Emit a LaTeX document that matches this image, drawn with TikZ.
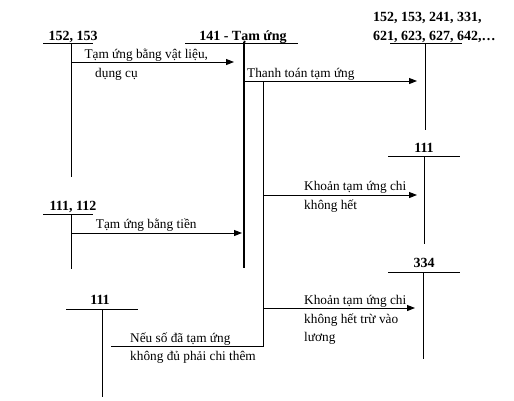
\documentclass[tikz,border=0pt]{standalone}
\usepackage{fontspec}
\setmainfont{Liberation Serif}
\usetikzlibrary{arrows.meta}
\begin{document}
\begin{tikzpicture}[x=1pt,y=-1pt,
  txt/.style={anchor=base west,inner sep=0pt,font=\fontsize{13.3}{19}\selectfont},
  hdr/.style={anchor=base,inner sep=0pt,font=\fontsize{14}{19}\selectfont\bfseries},
  hdrl/.style={anchor=base west,inner sep=0pt,font=\fontsize{14}{19}\selectfont\bfseries},
  ln/.style={line width=1pt},
  heavy/.style={line width=2.2pt},
  arr/.style={line width=1pt,-{Triangle[length=8pt,width=6pt]}}
]
\useasboundingbox (0,0) rectangle (514,400);
% headers
\node[hdr] (a152) at (73,40) {152, 153};
\node[hdr] (a141) at (243,40) {141 - Tạm ứng};
\node[hdrl] (aexp1) at (373,21.5) {152, 153, 241, 331,};
\node[hdrl] (aexp2) at (373,40) {621, 623, 627, 642,…};
\node[hdr] (a111r) at (424,152) {111};
\node[hdr] (a334) at (424,267) {334};
\node[hdr] (a1112) at (73,210) {111, 112};
\node[hdr] (a111l) at (100,304) {111};
% T-account coordinates
\coordinate (t152l) at (43,43);  \coordinate (t152r) at (93,43);
\coordinate (t152t) at (71,43);  \coordinate (t152b) at (71,177);
\coordinate (t141l) at (185,43); \coordinate (t141r) at (298,43);
\coordinate (t141t) at (244,42); \coordinate (t141b) at (244,268);
\coordinate (texl) at (390,43); \coordinate (texr) at (462,43);
\coordinate (text) at (425.7,43); \coordinate (texb) at (425.7,130);
\coordinate (t111rl) at (388,156); \coordinate (t111rr) at (460,156);
\coordinate (t111rt) at (424.3,156); \coordinate (t111rb) at (424.3,244);
\coordinate (t334l) at (388,272); \coordinate (t334r) at (460,272);
\coordinate (t334t) at (423.3,272); \coordinate (t334b) at (423.3,359);
\coordinate (t1112l) at (43,214); \coordinate (t1112r) at (93,214);
\coordinate (t1112t) at (71,214); \coordinate (t1112b) at (71,269);
\coordinate (t111ll) at (66,309); \coordinate (t111lr) at (138,309);
\coordinate (t111lt) at (102,309); \coordinate (t111lb) at (102,397);
% trunk
\coordinate (trt) at (263,82); \coordinate (trb) at (263,346);
\coordinate (trl) at (111,346);
% T-account lines
\draw[ln] (t152l) -- (t152r);  \draw[ln] (t152t) -- (t152b);
\draw[ln] (t141l) -- (t141r);  \draw[heavy] (t141t) -- (t141b);
\draw[ln] (texl) -- (texr);    \draw[ln] (text) -- (texb);
\draw[ln] (t111rl) -- (t111rr); \draw[ln] (t111rt) -- (t111rb);
\draw[ln] (t334l) -- (t334r);  \draw[ln] (t334t) -- (t334b);
\draw[ln] (t1112l) -- (t1112r); \draw[ln] (t1112t) -- (t1112b);
\draw[ln] (t111ll) -- (t111lr); \draw[ln] (t111lt) -- (t111lb);
\draw[ln] (trl) -- (trb) -- (trt);
% arrows
\coordinate (a1s) at (71,62);  \coordinate (a1e) at (234,62);
\coordinate (a2s) at (245,81); \coordinate (a2e) at (417,81);
\coordinate (a3s) at (263,195); \coordinate (a3e) at (417,195);
\coordinate (a4s) at (71,233); \coordinate (a4e) at (242,233);
\coordinate (a5s) at (263,308); \coordinate (a5e) at (415,308);
\draw[arr] (a1s) -- (a1e);
\draw[arr] (a2s) -- (a2e);
\draw[arr] (a3s) -- (a3e);
\draw[arr] (a4s) -- (a4e);
\draw[arr] (a5s) -- (a5e);
% labels
\node[txt] (l1a) at (84.3,58) {Tạm ứng bằng vật liệu,};
\node[txt] (l1b) at (95,77) {dụng cụ};
\node[txt] (l2) at (247,77.5) {Thanh toán tạm ứng};
\node[txt] (l3a) at (304,190.5) {Khoản tạm ứng chi};
\node[txt] (l3b) at (304,209) {không hết};
\node[txt] (l4) at (95.7,228) {Tạm ứng bằng tiền};
\node[txt] (l5a) at (304,304.3) {Khoản tạm ứng chi};
\node[txt] (l5b) at (304,323.3) {không hết trừ vào};
\node[txt] (l5c) at (304,341.7) {lương};
\node[txt] (l6a) at (130,342.7) {Nếu số đã tạm ứng};
\node[txt] (l6b) at (130,360.7) {không đủ phải chi thêm};
\end{tikzpicture}
\end{document}
